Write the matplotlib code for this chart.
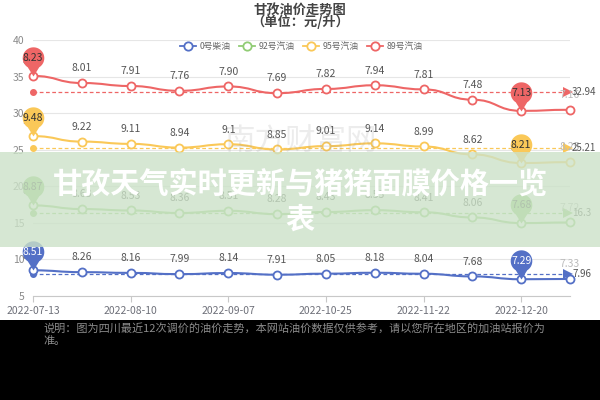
import numpy as np
import matplotlib
matplotlib.use("Agg")
import matplotlib.pyplot as plt
from matplotlib.path import Path
from matplotlib.patches import PathPatch, Rectangle
from matplotlib.lines import Line2D

plt.rcParams['font.family'] = ['Noto Sans CJK SC', 'DejaVu Sans']

# data
dates = ['2022-07-13', '2022-07-27', '2022-08-10', '2022-08-24', '2022-09-07', '2022-09-21',
         '2022-10-25', '2022-11-08', '2022-11-22', '2022-12-06', '2022-12-20', '2023-01-03']
names = ['0号柴油', '92号汽油', '95号汽油', '89号汽油']
diesel0 = [8.51, 8.26, 8.16, 7.99, 8.14, 7.91, 8.05, 8.18, 8.04, 7.68, 7.29, 7.33]
gas92 = [8.87, 8.63, 8.53, 8.36, 8.51, 8.28, 8.43, 8.55, 8.41, 8.06, 7.68, 7.72]
gas95 = [9.48, 9.22, 9.11, 8.94, 9.1, 8.85, 9.01, 9.14, 8.99, 8.62, 8.21, 8.25]
gas89 = [8.23, 8.01, 7.91, 7.76, 7.90, 7.69, 7.82, 7.94, 7.81, 7.48, 7.13, 7.16]
label_fmt = ['.2f', '.2f', 'g', '.2f']
colors = ['#5470c6', '#91cc75', '#fac858', '#ee6666']
pin_text = ['white', '#444444', '#333333', '#333333']

series = [np.array(diesel0), np.array(gas92), np.array(gas95), np.array(gas89)]
stacked = np.cumsum(series, axis=0)

fig = plt.figure(figsize=(6, 4), dpi=100)
ax = fig.add_axes([0.055, 0.26, 0.895, 0.64])
x = np.arange(len(dates))


def smooth_path(xs, ys):
    # cubic segments with flat tangents, like the echarts smooth line
    verts = [(xs[0], ys[0])]
    codes = [Path.MOVETO]
    for i in range(len(xs) - 1):
        verts += [(xs[i] + 0.5, ys[i]), (xs[i + 1] - 0.5, ys[i + 1]), (xs[i + 1], ys[i + 1])]
        codes += [Path.CURVE4] * 3
    return Path(verts, codes)


# pin marker: tip at origin, balloon above
ang = np.radians(np.linspace(-58, 238, 60))
pin_verts = [(np.cos(a), 1.7 + np.sin(a)) for a in ang] + [(0, 0), (np.cos(ang[0]), 1.7 + np.sin(ang[0]))]
pin = Path(pin_verts)
pin_size = 42
pin_off = 1.7 * pin_size * 0.5 / 2.7

for k in range(4):
    c = colors[k]
    ys = stacked[k]
    ax.add_patch(PathPatch(smooth_path(x, ys), facecolor='none', edgecolor=c, lw=1.5, zorder=3, clip_on=False))
    ax.plot(x, ys, 'o', ms=5.8, mfc='white', mec=c, mew=1.3, zorder=4, clip_on=False)
    for i in range(len(x)):
        col = '#bbbbbb' if i == len(x) - 1 else '#555555'
        ax.annotate(format(series[k][i], label_fmt[k]), (x[i], ys[i]), xytext=(0, 7),
                    textcoords='offset points', ha='center', va='bottom', fontsize=7.5,
                    color=col, zorder=5, annotation_clip=False)
    # average line
    avg = ys.mean()
    ax.plot([0, len(x) - 1.1], [avg, avg], ls=(0, (3, 2)), color=c, lw=0.9, zorder=2, clip_on=False)
    ax.plot([0], [avg], 'o', ms=4, color=c, zorder=2, clip_on=False)
    ax.plot([len(x) - 1.05], [avg], marker='>', ms=7, color=c, mew=0, zorder=2, clip_on=False)
    ax.annotate(format(round(avg, 2), 'g'), (len(x) - 1, avg), xytext=(1.5, 0),
                textcoords='offset points', ha='left', va='center', fontsize=7,
                color='#555555', annotation_clip=False, zorder=5)
    # max / min pins
    for i in (int(np.argmax(ys)), int(np.argmin(ys))):
        ax.plot([x[i]], [ys[i]], marker=pin, ms=pin_size, color=c, mew=0, zorder=6, clip_on=False)
        ax.annotate(f'{series[k][i]:.2f}', (x[i], ys[i]), xytext=(0, pin_off),
                    textcoords='offset points', ha='center', va='center', fontsize=7.5,
                    color=pin_text[k], zorder=7, annotation_clip=False)

ax.set_xlim(0, len(x) - 1)
ax.set_ylim(5, 40)
ax.set_yticks(np.arange(5, 41, 5))
ax.set_xticks(x[::2])
ax.set_xticklabels(dates[::2])
ax.grid(axis='y', color='#e6e6e6', lw=0.8)
ax.set_axisbelow(True)
for s in ['top', 'right', 'left']:
    ax.spines[s].set_visible(False)
ax.spines['bottom'].set_color('#c8c8c8')
ax.tick_params(axis='y', length=0, labelsize=7.5, labelcolor='#8a8a8a', pad=6)
ax.tick_params(axis='x', length=4, color='#c8c8c8', labelsize=7.5, labelcolor='#6e7079')

handles = [Line2D([], [], color=c, marker='o', ms=6, mfc='white', mew=1.3, lw=1.3) for c in colors]
leg = ax.legend(handles, names, loc='center', bbox_to_anchor=(0.5, 0.973), ncol=4, frameon=False,
                fontsize=6.3, labelcolor='#666666', handlelength=1.8, columnspacing=1.0, handletextpad=0.4)
leg.set_zorder(8)

fig.text(0.5, 0.975, '甘孜油价走势图', ha='center', va='center', fontsize=9.5, fontweight='bold', color='#444444')
fig.text(0.5, 0.945, '（单位：元/升）', ha='center', va='center', fontsize=9.5, fontweight='bold', color='#444444')

# faint watermark
fig.text(0.50, 0.645, '南方财富网', ha='center', va='center', fontsize=22, color='#999999', alpha=0.18, zorder=1)

# banner overlay
fig.patches.append(Rectangle((0, 1 - 247 / 400), 1, 95 / 400, transform=fig.transFigure,
                             facecolor=(204 / 255, 226 / 255, 200 / 255), alpha=0.8, edgecolor='none', zorder=10))
fig.text(0.5, 1 - 183 / 400, '甘孜天气实时更新与猪猪面膜价格一览', ha='center', va='center', fontsize=21,
         fontweight='bold', color='white', zorder=11)
fig.text(0.5, 1 - 220 / 400, '表', ha='center', va='center', fontsize=21, fontweight='bold', color='white', zorder=11)

# black strip with caption
fig.patches.append(Rectangle((0, 0), 1, 80 / 400, transform=fig.transFigure, facecolor='black',
                             edgecolor='none', zorder=10))
fig.text(43 / 600, 1 - 328 / 400, '说明：图为四川最近12次调价的油价走势，本网站油价数据仅供参考，请以您所在地区的加油站报价为',
         ha='left', va='center', fontsize=8, color='#8c8c8c', zorder=11)
fig.text(43 / 600, 1 - 341 / 400, '准。', ha='left', va='center', fontsize=8, color='#8c8c8c', zorder=11)

fig.savefig('out.png', dpi=100)
